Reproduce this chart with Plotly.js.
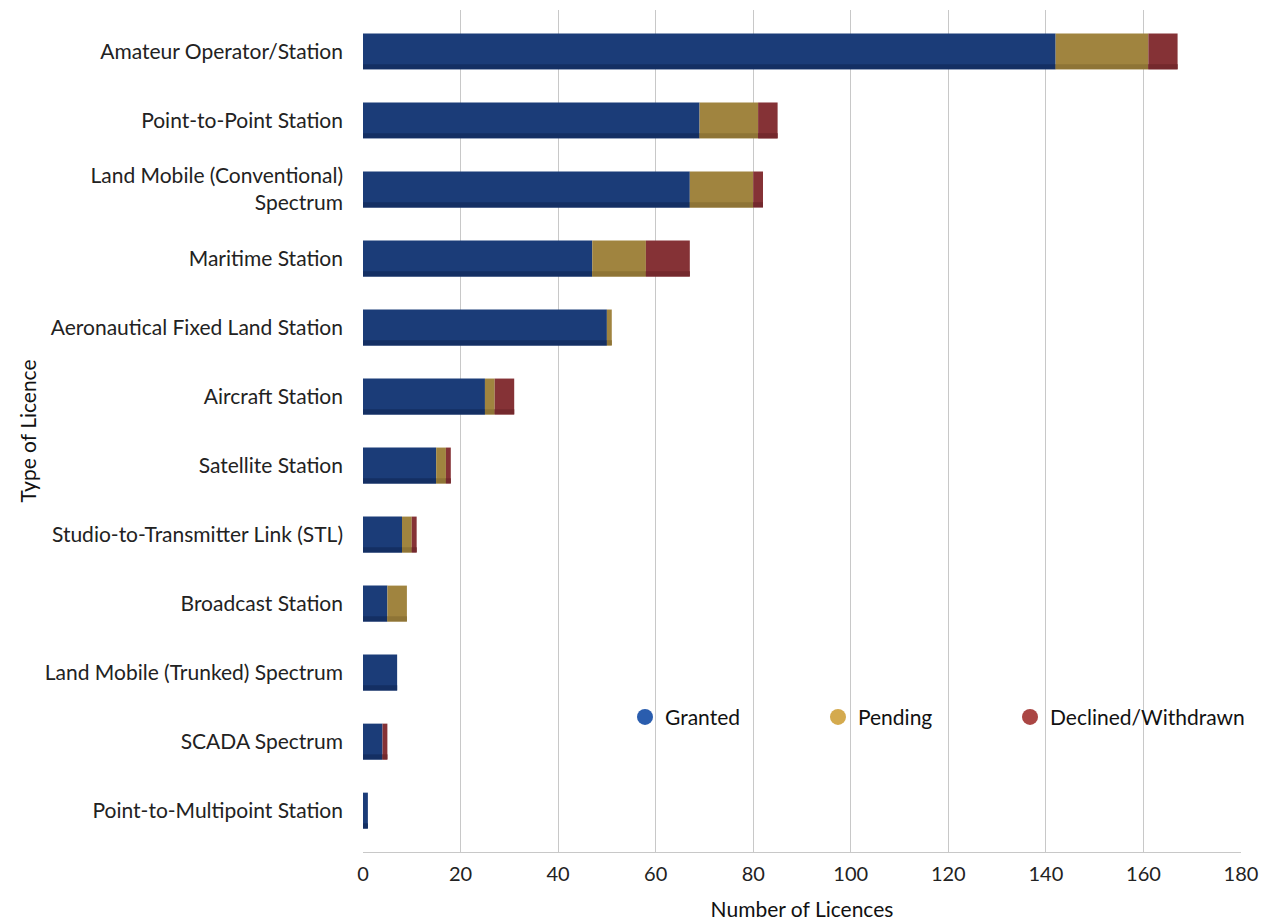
<!DOCTYPE html>
<html>
<head>
<meta charset="utf-8">
<script src="https://cdn.plot.ly/plotly-3.0.1.min.js"></script>
<style>html,body{margin:0;padding:0;background:#fff;}#chart{width:1272px;height:921px;}</style>
</head>
<body>
<div id="chart"></div>
<script>
const categories = [
  "Amateur Operator/Station",
  "Point-to-Point Station",
  "Land Mobile (Conventional)<br>Spectrum",
  "Maritime Station",
  "Aeronautical Fixed Land Station",
  "Aircraft Station",
  "Satellite Station",
  "Studio-to-Transmitter Link (STL)",
  "Broadcast Station",
  "Land Mobile (Trunked) Spectrum",
  "SCADA Spectrum",
  "Point-to-Multipoint Station"
];
const granted  = [142, 69, 67, 47, 50, 25, 15, 8, 5, 7, 4, 1];
const pending  = [19, 12, 13, 11, 1, 2, 2, 2, 4, 0, 0, 0];
const declined = [6, 4, 2, 9, 0, 4, 1, 1, 0, 0, 1, 0];
const seriesNames = ["Granted", "Pending", "Declined/Withdrawn"];
const xTicks = [0, 20, 40, 60, 80, 100, 120, 140, 160, 180];

const barColors = ["#1B3C78", "#A0843F", "#853236"];
const stripColors = ["#142F63", "#8E7436", "#74292D"];
const legendColors = ["#2A5DAE", "#D4AA4E", "#AA4644"];

const series = [granted, pending, declined];
const bases = series.map((s, k) => categories.map((_, i) => {
  let b = 0; for (let j = 0; j < k; j++) b += series[j][i]; return b;
}));

const FONT = "Lato, 'Open Sans', sans-serif";
const traces = [];
const W = 0.52, SW = 0.075;
series.forEach((s, k) => {
  traces.push({
    type: "bar", orientation: "h", y: categories, x: s, base: bases[k],
    width: W, marker: {color: barColors[k], line: {width: 0}},
    showlegend: false, hoverinfo: "x+y", name: seriesNames[k]
  });
  traces.push({
    type: "bar", orientation: "h", y: categories, x: s, base: bases[k],
    width: SW, offset: W / 2 - SW, marker: {color: stripColors[k], line: {width: 0}},
    showlegend: false, hoverinfo: "skip"
  });
});
const legendIds = ["legend", "legend2", "legend3"];
seriesNames.forEach((n, k) => {
  traces.push({
    type: "scatter", mode: "markers", x: [null], y: [null], name: n,
    legend: legendIds[k],
    marker: {color: legendColors[k], size: 20, symbol: "circle"}, showlegend: true
  });
});

const legendX = [0.2984, 0.5182, 0.7369];
function mkLegend(x) {
  return {
    orientation: "h", x: x, xanchor: "left", y: 0.16, yanchor: "middle",
    font: {family: FONT, size: 21, color: "#111"}, bgcolor: "rgba(0,0,0,0)",
    itemclick: false
  };
}

const layout = {
  width: 1272, height: 921,
  margin: {l: 363, r: 31, t: 10, b: 69, autoexpand: false},
  paper_bgcolor: "#fff", plot_bgcolor: "#fff",
  barmode: "overlay",
  font: {family: FONT, size: 21, color: "#222"},
  xaxis: {
    range: [0, 180], tickvals: xTicks, ticktext: xTicks.map(String),
    showgrid: true, gridcolor: "#C8C8C8", gridwidth: 1,
    zeroline: false, showline: true, linecolor: "#C8C8C8", linewidth: 1, mirror: false,
    ticks: "", ticklabelstandoff: 4,
    tickfont: {family: FONT, size: 20, color: "#222"},
    title: {text: "Number of Licences", font: {family: FONT, size: 21, color: "#111"}, standoff: 18}
  },
  yaxis: {
    type: "category", categoryorder: "array", categoryarray: categories,
    range: [11.6, -0.6], showgrid: false, zeroline: false, showline: false,
    ticks: "", ticklabelstandoff: 19,
    tickfont: {family: FONT, size: 21, color: "#222"},
    title: {text: "Type of Licence", font: {family: FONT, size: 21, color: "#111"}, standoff: 2}
  },
  legend: mkLegend(legendX[0]),
  legend2: mkLegend(legendX[1]),
  legend3: mkLegend(legendX[2]),
  showlegend: true
};

Plotly.newPlot("chart", traces, layout, {displayModeBar: false, staticPlot: true});
</script>
</body>
</html>
